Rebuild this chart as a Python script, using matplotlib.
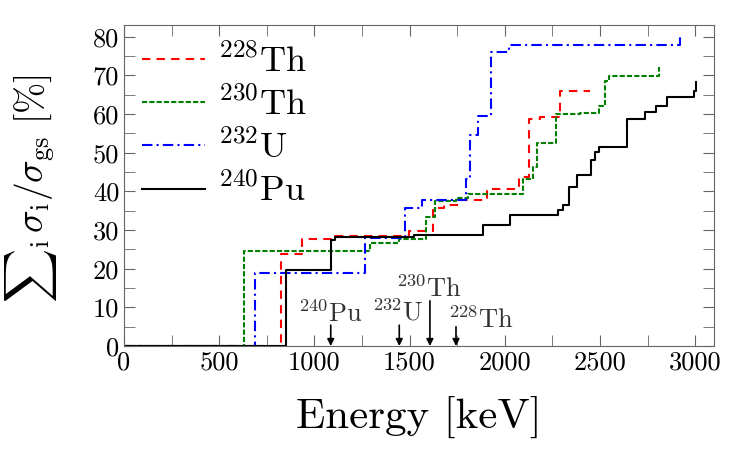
import matplotlib
matplotlib.use('Agg')
import matplotlib.pyplot as plt
from matplotlib.ticker import MultipleLocator

plt.rcParams['mathtext.fontset'] = 'cm'
plt.rcParams['font.family'] = 'serif'
plt.rcParams['font.serif'] = ['cmr10']
plt.rcParams['axes.unicode_minus'] = False

# cumulative sums, step points (energy keV, percent)
th228_e = [0, 826, 934, 1109, 1498, 1621, 1683, 1753, 1905, 2077, 2130, 2183, 2288, 2446]
th228_y = [0, 23.7, 27.6, 28.5, 29.8, 35.8, 36.6, 37.9, 40.5, 43.7, 58.7, 59.2, 66.0, 66.0]

th230_e = [0, 630, 1290, 1443, 1586, 1635, 1744, 1805, 2096, 2147, 2170, 2270, 2393, 2493, 2528, 2547, 2809]
th230_y = [0, 24.5, 26.7, 27.6, 33.4, 37.5, 38.3, 39.4, 43.1, 46.3, 52.4, 59.9, 60.3, 62.0, 68.5, 69.8, 72.2]

u232_e = [0, 688, 1265, 1477, 1565, 1797, 1819, 1862, 1928, 2025, 2920]
u232_y = [0, 18.9, 28.0, 35.7, 37.7, 43.1, 54.5, 59.5, 76.0, 78.0, 80.8]

pu240_e = [0, 853, 1086, 1109, 1525, 1884, 2028, 2279, 2305, 2337, 2381, 2451, 2472, 2493,
           2640, 2735, 2797, 2855, 2993, 3003]
pu240_y = [0, 19.6, 27.4, 28.2, 28.7, 31.3, 34.0, 35.3, 36.4, 41.2, 44.2, 48.1, 50.2, 51.5,
           58.8, 60.5, 62.1, 64.3, 66.1, 68.3]

# ground-state reference energies marked with arrows
marker_names = [r'$^{240}\mathrm{Pu}$', r'$^{232}\mathrm{U}$', r'$^{230}\mathrm{Th}$', r'$^{228}\mathrm{Th}$']
marker_e = [1086, 1446, 1607, 1744]
marker_top = [5.4, 5.4, 11.7, 5.0]
label_e = [1086, 1440, 1603, 1873]
label_y = [6.3, 6.7, 12.6, 4.6]

fig = plt.figure(figsize=(7.47, 4.5), dpi=100)
ax = fig.add_axes([0.166, 0.231, 0.79, 0.713])

ax.plot(th228_e, th228_y, drawstyle='steps-post', color='red', ls=(0, (4, 3)), lw=1.5,
        label=r'$^{228}\mathrm{Th}$')
ax.plot(th230_e, th230_y, drawstyle='steps-post', color='green', ls=(0, (2.5, 1)), lw=1.5,
        label=r'$^{230}\mathrm{Th}$')
ax.plot(u232_e, u232_y, drawstyle='steps-post', color='blue', ls=(0, (5, 2, 1, 2)), lw=1.5,
        label=r'$^{232}\mathrm{U}$')
ax.plot(pu240_e, pu240_y, drawstyle='steps-post', color='black', ls='-', lw=1.5,
        label=r'$^{240}\mathrm{Pu}$')

for name, e, top, le, ly in zip(marker_names, marker_e, marker_top, label_e, label_y):
    ax.annotate('', xy=(e, 0), xytext=(e, top),
                arrowprops=dict(arrowstyle='-|>', color='black', lw=1.2,
                                mutation_scale=10, shrinkA=0, shrinkB=0))
    ax.text(le, ly, name, ha='center', va='baseline', fontsize=19, color='#333333')

ax.set_xlim(0, 3100)
ax.set_ylim(0, 83)
ax.xaxis.set_major_locator(MultipleLocator(500))
ax.xaxis.set_minor_locator(MultipleLocator(250))
ax.yaxis.set_major_locator(MultipleLocator(10))
ax.yaxis.set_minor_locator(MultipleLocator(5))
ax.tick_params(which='both', direction='in', top=True, right=True, color='0.4',
               labelsize=19, length=8)
for s in ax.spines.values():
    s.set_color('0.4')

ax.set_xlabel('Energy [keV]', fontsize=31, labelpad=15)
ax.set_ylabel(r'${\sum}_{\mathrm{i}}\,\sigma_{\mathrm{i}}/\sigma_{\mathrm{gs}}\ [\%]$', fontsize=27)
ax.yaxis.set_label_coords(-0.11, 0.49)

ax.legend(loc='upper left', frameon=False, fontsize=26, handlelength=1.75,
          labelspacing=0.22, borderaxespad=0.1, handletextpad=0.35)

fig.savefig('out.png', dpi=100)
